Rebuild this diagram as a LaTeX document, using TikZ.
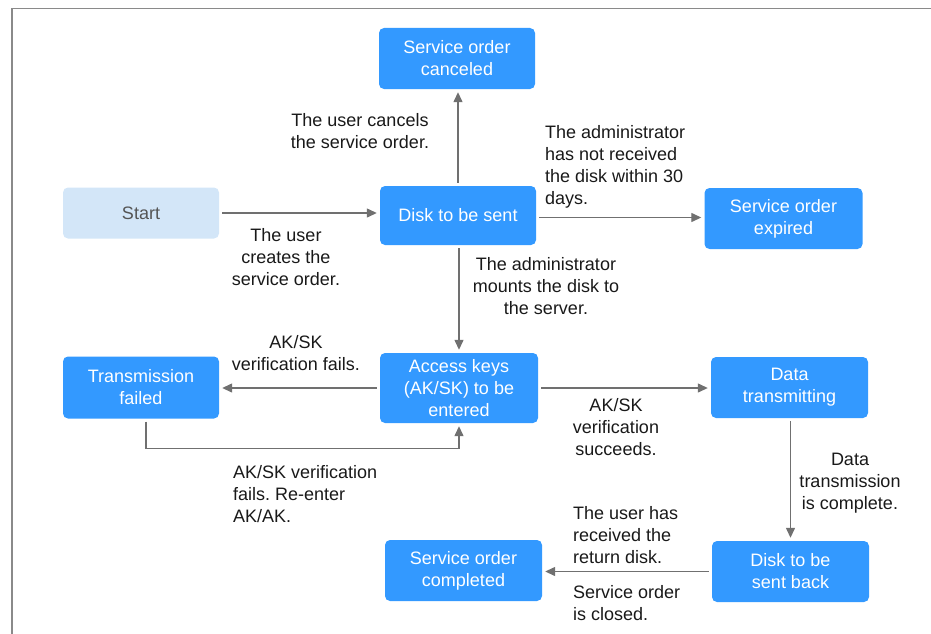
\documentclass[tikz,border=0pt]{standalone}
\usepackage{fontspec}
\setmainfont{Liberation Sans}
\frenchspacing
\usetikzlibrary{arrows.meta,calc}
\definecolor{boxblue}{HTML}{3399FF}
\definecolor{startblue}{HTML}{D3E6F8}
\definecolor{linegray}{HTML}{707070}
\definecolor{framegray}{HTML}{8A8A8A}
\definecolor{txtgray}{HTML}{555555}
\tikzset{
  statebox/.style={draw=none, fill=boxblue, rounded corners=5pt, text=white,
    align=center, inner sep=0pt, font=\fontsize{18}{22}\selectfont},
  startbox/.style={statebox, fill=startblue, text=txtgray},
  lbl/.style={inner sep=0pt, text=black!90, font=\fontsize{18}{22}\selectfont},
  conn/.style={draw=linegray, line width=1.3pt, shorten >=3pt, shorten <=3pt,
    -{Triangle[length=10pt,width=9pt]}},
}
\begin{document}
\begin{tikzpicture}[x=1pt,y=-1pt]
\useasboundingbox (0,0) rectangle (931,634);
\draw[framegray, line width=1.6pt] (12,640) -- (12,8.5) -- (940,8.5);

\node[startbox, minimum width=156pt, minimum height=51pt] (start) at (141,213) {Start};
\node[statebox, minimum width=156pt, minimum height=61pt] (canceled) at (457,58.5) {Service order\\canceled};
\node[statebox, minimum width=156pt, minimum height=59pt] (disk) at (458,215.5) {Disk to be sent};
\node[statebox, minimum width=158pt, minimum height=61pt] (expired) at (783.5,218.5) {Service order\\expired};
\node[statebox, minimum width=156pt, minimum height=62pt] (failed) at (141,387.5) {Transmission\\failed};
\node[statebox, minimum width=158pt, minimum height=70pt] (access) at (459,388) {Access keys\\(AK/SK) to be\\entered};
\node[statebox, minimum width=157pt, minimum height=61pt] (datatx) at (789.5,387.5) {Data\\transmitting};
\node[statebox, minimum width=157pt, minimum height=61pt] (back) at (790.5,571.5) {Disk to be\\sent back};
\node[statebox, minimum width=157pt, minimum height=61pt] (completed) at (463.5,570.5) {Service order\\completed};

\node[lbl, align=center] (lcancel) at (360,131) {The user cancels\\the service order.};
\node[lbl, align=left, anchor=west] (ladmin) at (545,167) {The administrator\\has not received\\the disk within 30\\days.};
\node[lbl, align=center] (lcreate) at (286,257) {The user\\creates the\\service order.};
\node[lbl, align=center] (lmount) at (546,286) {The administrator\\mounts the disk to\\the server.};
\node[lbl, align=center] (lfail) at (296,353) {AK/SK\\verification fails.};
\node[lbl, align=center] (lsucc) at (616,427) {AK/SK\\verification\\succeeds.};
\node[lbl, align=left, anchor=west] (lreenter) at (233,494) {AK/SK verification\\fails. Re-enter\\AK/AK.};
\node[lbl, align=center] (ldata) at (850,483) {Data\\transmission\\is complete.};
\node[lbl, align=left, anchor=west] (lreceived) at (573,535) {The user has\\received the\\return disk.};
\node[lbl, align=left, anchor=west] (lclosed) at (573,603) {Service order\\is closed.};

\draw[conn] (start.east) -- (start.east -| disk.west);
\draw[conn] (disk.north) -- (disk.north |- canceled.south);
\draw[conn] ([yshift=-2pt]disk.east) -- ([yshift=-2pt]disk.east -| expired.west);
\draw[conn] ([xshift=1pt]disk.south) -- ([xshift=1pt]disk.south |- access.north);
\draw[conn] (access.west) -- (access.west -| failed.east);
\draw[conn] (access.east) -- (access.east -| datatx.west);
\draw[conn, shorten <=3pt] ([xshift=5pt]failed.south) -- ++(0,30) -| (access.south);
\draw[conn] ([xshift=1pt]datatx.south) -- ([xshift=1pt]datatx.south |- back.north);
\draw[conn] (back.west) -- (back.west -| completed.east);
\end{tikzpicture}
\end{document}
